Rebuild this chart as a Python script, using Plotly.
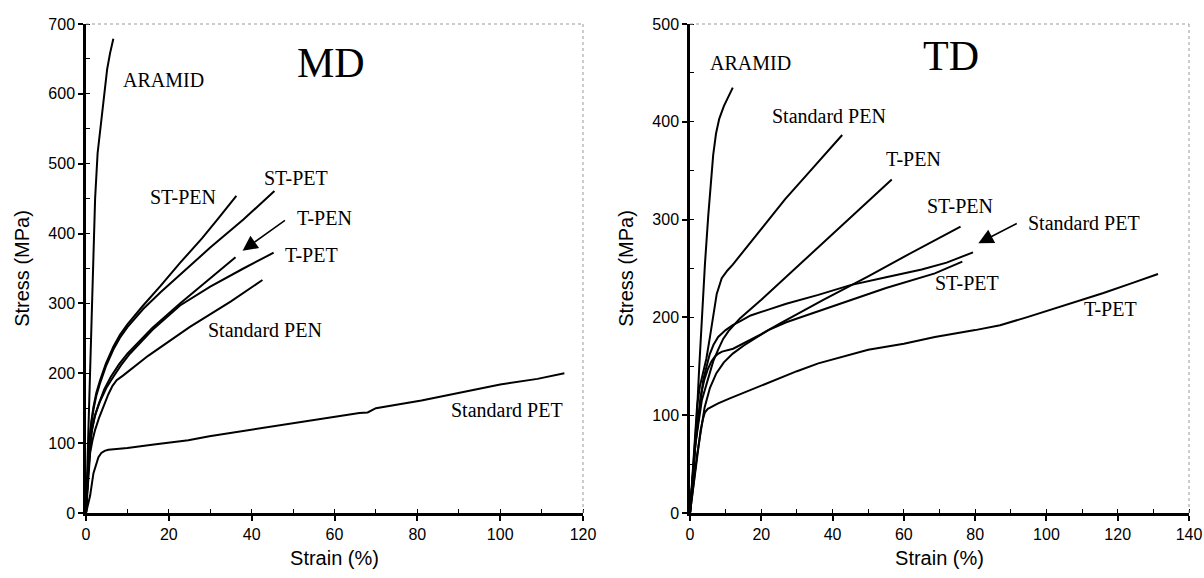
import plotly.graph_objects as go

# ---------------- MD panel data (Strain %, Stress MPa) ----------------
md_aramid_x = [0, 0.5, 1.0, 1.6, 2.2, 2.8, 3.4, 3.9, 4.6, 5.1, 5.8, 6.6]
md_aramid_y = [0, 95, 190, 330, 450, 515, 548, 572, 605, 635, 658, 679]

md_stpen_x = [0, 0.4, 0.8, 1.3, 1.8, 2.5, 3.4, 4.8, 6.6, 8.2, 10, 13.8, 18, 22.7, 28, 32, 36.3]
md_stpen_y = [0, 60, 104, 132, 152, 172, 190, 214, 238, 255, 270, 297, 325, 358, 393, 422, 454]

md_stpet_x = [0, 0.4, 0.8, 1.3, 1.8, 2.5, 3.4, 4.8, 6.6, 8.2, 10, 13.8, 18, 22.7, 30, 38, 45.5]
md_stpet_y = [0, 58, 100, 128, 148, 168, 186, 210, 234, 251, 266, 292, 316, 341, 380, 420, 461]

md_tpen_x = [0, 0.5, 1.2, 2.0, 3, 4.4, 6, 8, 10, 16, 22.7, 30, 36.1]
md_tpen_y = [0, 60, 110, 136, 155, 177, 195, 213, 228, 265, 300, 336, 366]

md_tpet_x = [0, 0.5, 1.4, 2.3, 3.4, 4.9, 6.6, 8.5, 10.6, 16, 22.7, 30, 38, 45.3]
md_tpet_y = [0, 55, 119, 142, 160, 179, 195, 212, 228, 262, 297, 324, 350, 372.6]

md_stdpen_x = [0, 0.5, 1, 1.6, 2.2, 3.2, 4.2, 5.4, 6.4, 7.4, 9, 15, 25, 35, 42.6]
md_stdpen_y = [0, 50, 86, 105, 119, 137, 152, 170, 182, 190, 197, 225, 266, 303, 333.5]

md_stdpet_x = [0, 1.0, 1.8, 2.4, 3.0, 3.7, 4.5, 5.4, 6.5, 10, 16.4, 24.7, 29.8, 39.5, 49.7,
               59.9, 66, 68, 70, 81, 90, 100, 109, 115.5]
md_stdpet_y = [0, 25, 57, 70, 80, 86, 89, 90.5, 91, 93, 98, 104, 110, 119, 128,
               137, 143, 144, 150, 161, 172, 184, 192, 200]

# ---------------- TD panel data ----------------
td_aramid_x = [0, 1.0, 1.9, 2.6, 3.3, 4.2, 5.1, 5.8, 6.5, 7.3, 8.2, 9.5, 10.7, 12.0]
td_aramid_y = [0, 50, 98, 150, 201, 255, 303, 338, 366, 388, 403, 416, 426, 435]

td_stdpen_x = [0, 1, 2, 2.8, 3.6, 4.6, 5.6, 6.6, 7.5, 8.9, 10.5, 12, 18, 26.7, 35, 42.7]
td_stdpen_y = [0, 60, 110, 130, 142, 158, 180, 205, 224, 240, 248, 254, 281, 321, 355, 386.5]

td_tpen_x = [0, 1.5, 3.3, 5.1, 6.5, 7.9, 9.3, 10.8, 14, 20, 30, 40, 50, 56.6]
td_tpen_y = [0, 70, 115, 139, 155, 167, 178, 186, 199, 218, 251.5, 285, 318.5, 341]

td_stpen_x = [0, 1.5, 3, 4, 5, 6, 7, 8, 9, 10.5, 12.1, 20, 25.3, 37.4, 42.2, 50, 60, 68.7, 75.9]
td_stpen_y = [0, 70, 120, 136, 147, 155, 160, 163, 165, 166.5, 168, 183, 194, 218, 227, 242, 262, 279, 292.8]

td_stdpet_x = [0, 1.5, 3.7, 4.6, 5.5, 6.6, 7.9, 10, 12, 14.5, 17, 22, 27, 36, 45, 55, 65, 72, 79.4]
td_stdpet_y = [0, 70, 136, 150, 162, 172, 180, 187, 192, 197, 202, 208, 214, 223, 233, 241, 249, 256, 266.5]

td_stpet_x = [0, 2, 4.1, 5.6, 7.4, 9.5, 12, 15, 18, 22, 27, 36, 45.4, 55, 68.7, 76.4]
td_stpet_y = [0, 60, 108, 128, 143, 154, 163, 171, 178, 187, 195, 206, 218, 230, 245, 257]

td_tpet_x = [0, 1.5, 3, 3.7, 4.2, 5, 6.2, 7.9, 11, 15, 22, 30, 36, 43, 50, 60, 68.7, 80, 87,
             94.4, 105, 110.4, 116, 124, 131.3]
td_tpet_y = [0, 45, 85, 97, 103, 106.5, 109, 112, 117, 123, 133, 145, 153, 160, 167, 173, 180, 187, 192,
             200, 212, 218, 225, 235, 244.4]

# ---------------- Labels ----------------
md_labels = [("ARAMID", 18.6, 620), ("ST-PEN", 23.4, 453), ("ST-PET", 50.8, 479),
             ("T-PEN", 57.6, 422), ("T-PET", 54.4, 369), ("Standard PEN", 43.1, 262),
             ("Standard PET", 101.7, 147)]
td_labels = [("ARAMID", 17.1, 460), ("Standard PEN", 38.9, 406), ("T-PEN", 62.6, 362),
             ("ST-PEN", 75.7, 314), ("Standard PET", 110.5, 297), ("ST-PET", 77.6, 235),
             ("T-PET", 118, 209)]

SERIF = "Liberation Serif, Times New Roman, serif"
SANS = "Liberation Sans, Arial, sans-serif"

fig = go.Figure()

md_series = [(md_aramid_x, md_aramid_y), (md_stpen_x, md_stpen_y), (md_stpet_x, md_stpet_y),
             (md_tpen_x, md_tpen_y), (md_tpet_x, md_tpet_y), (md_stdpen_x, md_stdpen_y),
             (md_stdpet_x, md_stdpet_y)]
td_series = [(td_aramid_x, td_aramid_y), (td_stdpen_x, td_stdpen_y), (td_tpen_x, td_tpen_y),
             (td_stpen_x, td_stpen_y), (td_stdpet_x, td_stdpet_y), (td_stpet_x, td_stpet_y),
             (td_tpet_x, td_tpet_y)]

for xs, ys in md_series:
    fig.add_trace(go.Scatter(x=xs, y=ys, mode="lines", xaxis="x", yaxis="y",
                             line=dict(color="black", width=2),
                             showlegend=False, hoverinfo="skip"))
for xs, ys in td_series:
    fig.add_trace(go.Scatter(x=xs, y=ys, mode="lines", xaxis="x2", yaxis="y2",
                             line=dict(color="black", width=2),
                             showlegend=False, hoverinfo="skip"))

annotations = []
for txt, x, y in md_labels:
    annotations.append(dict(text=txt, x=x, y=y, xref="x", yref="y", showarrow=False,
                            font=dict(family=SERIF, size=20, color="black")))
for txt, x, y in td_labels:
    annotations.append(dict(text=txt, x=x, y=y, xref="x2", yref="y2", showarrow=False,
                            font=dict(family=SERIF, size=20, color="black")))
annotations.append(dict(text="MD", x=59.2, y=644, xref="x", yref="y", showarrow=False,
                        font=dict(family=SERIF, size=42, color="black")))
annotations.append(dict(text="TD", x=73.2, y=467, xref="x2", yref="y2", showarrow=False,
                        font=dict(family=SERIF, size=42, color="black")))
# arrows
annotations.append(dict(text="", x=37.8, y=375.5, ax=48.4, ay=420.4, xref="x", yref="y",
                        axref="x", ayref="y", showarrow=True, arrowhead=2, arrowsize=2.0,
                        arrowwidth=1.5, arrowcolor="black"))
annotations.append(dict(text="", x=80.9, y=275.8, ax=92.1, ay=296.8, xref="x2", yref="y2",
                        axref="x2", ayref="y2", showarrow=True, arrowhead=2, arrowsize=2.0,
                        arrowwidth=1.5, arrowcolor="black"))

def xaxis_cfg(domain, rng, anchor):
    return dict(domain=domain, range=rng, anchor=anchor, dtick=20, tick0=0,
                showline=True, linewidth=2.5, linecolor="black", showgrid=False,
                zeroline=False, ticks="outside", ticklen=5, tickwidth=1.5, tickcolor="black",
                minor=dict(ticks="inside", dtick=10, ticklen=4, tickwidth=1.2, tickcolor="black",
                           showgrid=False),
                tickfont=dict(family=SANS, size=16, color="black"),
                title=dict(text="Strain (%)", font=dict(family=SANS, size=20, color="black"),
                           standoff=10),
                automargin=False)

def yaxis_cfg(rng, anchor):
    return dict(domain=[0, 1], range=rng, anchor=anchor, dtick=100, tick0=0,
                showline=True, linewidth=2.5, linecolor="black", showgrid=False,
                zeroline=False, ticks="outside", ticklen=5, tickwidth=1.5, tickcolor="black",
                minor=dict(ticks="inside", dtick=50, ticklen=4, tickwidth=1.2, tickcolor="black",
                           showgrid=False),
                tickfont=dict(family=SANS, size=16, color="black"),
                title=dict(text="Stress (MPa)", font=dict(family=SANS, size=20, color="black"),
                           standoff=14),
                automargin=False)

shapes = []
for xr, yr in [("x", "y"), ("x2", "y2")]:
    shapes.append(dict(type="line", xref=f"{xr} domain", yref=f"{yr} domain", x0=0, x1=1, y0=1, y1=1,
                       line=dict(color="#999999", width=1, dash="dot")))
    shapes.append(dict(type="line", xref=f"{xr} domain", yref=f"{yr} domain", x0=1, x1=1, y0=0, y1=1,
                       line=dict(color="#999999", width=1, dash="dot")))

fig.update_layout(
    width=1204, height=578,
    margin=dict(l=86, r=15, t=24, b=65),
    paper_bgcolor="white", plot_bgcolor="white",
    xaxis=xaxis_cfg([0, 0.4506], [0, 120], "y"),
    yaxis=yaxis_cfg([0, 700], "x"),
    xaxis2=xaxis_cfg([0.5476, 1], [0, 140], "y2"),
    yaxis2=yaxis_cfg([0, 500], "x2"),
    annotations=annotations,
    shapes=shapes,
    showlegend=False,
)

fig.write_html("out.html")
